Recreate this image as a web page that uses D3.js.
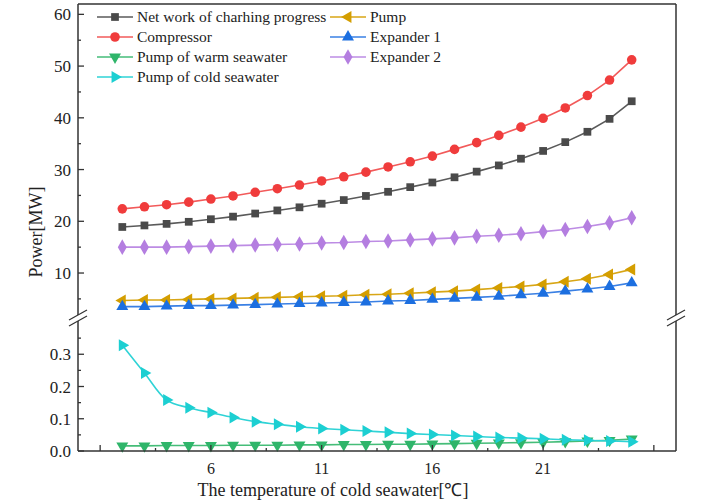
<!DOCTYPE html>
<html>
<head>
<meta charset="utf-8">
<script src="https://cdn.jsdelivr.net/npm/d3@7"></script>
<style>
  body { margin: 0; background: #fff; }
  svg text { font-family: "Liberation Serif", "Times New Roman", serif; fill: #222; }
</style>
</head>
<body>
<div id="chart"></div>
<script>
/* DATA */
const temps = d3.range(2, 26); // 2..25 °C

const netWork = [18.9, 19.2, 19.5, 19.9, 20.4, 20.9, 21.5, 22.1, 22.7, 23.4, 24.1, 24.9,
  25.7, 26.6, 27.5, 28.5, 29.6, 30.8, 32.1, 33.6, 35.3, 37.3, 39.8, 43.2];
const compressor = [22.4, 22.8, 23.2, 23.7, 24.3, 24.9, 25.6, 26.3, 27.0, 27.8, 28.6, 29.5,
  30.5, 31.5, 32.6, 33.9, 35.2, 36.6, 38.2, 39.9, 41.9, 44.3, 47.3, 51.2];
const expander2 = [15.0, 15.0, 15.0, 15.1, 15.2, 15.3, 15.4, 15.5, 15.6, 15.8, 15.9, 16.1,
  16.2, 16.4, 16.6, 16.8, 17.1, 17.3, 17.6, 18.0, 18.4, 19.0, 19.7, 20.7];
const pump = [4.7, 4.8, 4.8, 4.9, 5.0, 5.1, 5.2, 5.3, 5.4, 5.5, 5.6, 5.8,
  5.9, 6.1, 6.3, 6.5, 6.8, 7.1, 7.4, 7.8, 8.3, 8.9, 9.7, 10.7];
const expander1 = [3.5, 3.5, 3.6, 3.7, 3.7, 3.8, 3.9, 4.0, 4.1, 4.2, 4.3, 4.4,
  4.6, 4.7, 4.9, 5.1, 5.3, 5.5, 5.8, 6.1, 6.5, 6.9, 7.4, 8.1];
const pumpWarm = [0.016, 0.016, 0.017, 0.017, 0.017, 0.018, 0.018, 0.018, 0.019, 0.019, 0.020, 0.020,
  0.021, 0.021, 0.022, 0.023, 0.024, 0.025, 0.026, 0.027, 0.029, 0.031, 0.033, 0.037];
const pumpCold = [0.328, 0.242, 0.158, 0.134, 0.119, 0.104, 0.091, 0.083, 0.075, 0.070, 0.066, 0.062,
  0.058, 0.054, 0.051, 0.048, 0.045, 0.042, 0.040, 0.038, 0.035, 0.033, 0.031, 0.029];

const xTicks = [1, 6, 11, 16, 21, 26];
const xLabels = [6, 11, 16, 21];
const upperTicks = [10, 20, 30, 40, 50, 60];
const lowerTicks = [0.0, 0.1, 0.2, 0.3];

// series: name, values, panel, colour, marker, legend column/row
const series = [
  { name: "Net work of charhing progress", values: netWork, panel: "up", color: "#4a4a4a", line: "#5a5a5a", marker: "square", col: 0, row: 0 },
  { name: "Compressor", values: compressor, panel: "up", color: "#f03c3c", line: "#f25a5a", marker: "circle", col: 0, row: 1 },
  { name: "Pump of warm seawater", values: pumpWarm, panel: "low", color: "#2fb56a", line: "#45bd78", marker: "down", col: 0, row: 2 },
  { name: "Pump of cold seawater", values: pumpCold, panel: "low", color: "#1ccfd2", line: "#2fd3d6", marker: "right", col: 0, row: 3, curve: true },
  { name: "Pump", values: pump, panel: "up", color: "#d49e00", line: "#d8a616", marker: "left", col: 1, row: 0 },
  { name: "Expander 1", values: expander1, panel: "up", color: "#1c6fe0", line: "#3a80e4", marker: "up", col: 1, row: 1 },
  { name: "Expander 2", values: expander2, panel: "up", color: "#b47ee0", line: "#bd8ce4", marker: "diamond", col: 1, row: 2 }
];

/* LAYOUT */
const W = 703, H = 501;
const m = { left: 78, right: 676, top: 4, bottom: 451 };
const breakY = 318;

const svg = d3.select("#chart").append("svg")
  .attr("width", W).attr("height", H);

const x = d3.scaleLinear().domain([0, 27]).range([m.left, m.right]);
const yUp = d3.scaleLinear().domain([1.5, 62]).range([317, m.top]);
const yLow = d3.scaleLinear().domain([0, 0.4]).range([m.bottom, 322]);

const symbolFor = {
  square: d3.symbolSquare, circle: d3.symbolCircle, diamond: d3.symbolDiamond,
  up: d3.symbolTriangle, down: d3.symbolTriangle, left: d3.symbolTriangle, right: d3.symbolTriangle
};
const rotFor = { up: 0, down: 180, left: -90, right: 90, square: 0, circle: 0, diamond: 0 };
const sizeFor = { square: 60, circle: 72, diamond: 70, up: 62, down: 62, left: 62, right: 62 };

/* LINES */
series.forEach(s => {
  const y = s.panel === "up" ? yUp : yLow;
  const pts = temps.map((t, i) => [t, s.values[i]]);
  const line = d3.line().x(d => x(d[0])).y(d => y(d[1]))
    .curve(s.curve ? d3.curveCatmullRom : d3.curveLinear);
  svg.append("path")
    .attr("d", line(pts))
    .attr("fill", "none")
    .attr("stroke", s.line)
    .attr("stroke-width", 1.6);
  svg.append("g").selectAll("path")
    .data(pts)
    .join("path")
    .attr("d", d3.symbol(symbolFor[s.marker], sizeFor[s.marker]))
    .attr("transform", d => `translate(${x(d[0])},${y(d[1])}) rotate(${rotFor[s.marker]})`)
    .attr("fill", s.color);
});

/* FRAME AND AXES */
const frame = svg.append("g").attr("stroke", "#333").attr("stroke-width", 1.5).attr("fill", "none");
// left axis and right frame, both broken
[m.left, m.right].forEach(cx => {
  frame.append("line").attr("x1", cx).attr("x2", cx).attr("y1", m.top).attr("y2", breakY - 3);
  frame.append("line").attr("x1", cx).attr("x2", cx).attr("y1", breakY + 3).attr("y2", m.bottom);
});
// top, bottom
frame.append("line").attr("x1", m.left).attr("x2", m.right).attr("y1", m.top).attr("y2", m.top);
frame.append("line").attr("x1", m.left).attr("x2", m.right).attr("y1", m.bottom).attr("y2", m.bottom);

// break marks
[m.left, m.right].forEach(cx => {
  [-3, 3].forEach(dy => {
    frame.append("line")
      .attr("x1", cx - 9).attr("y1", breakY + dy + 5)
      .attr("x2", cx + 9).attr("y2", breakY + dy - 5)
      .attr("stroke-width", 1.2);
  });
});

const tickG = svg.append("g").attr("stroke", "#333").attr("stroke-width", 1.3);

// x ticks (inward)
xTicks.forEach(t => {
  tickG.append("line").attr("x1", x(t)).attr("x2", x(t)).attr("y1", m.bottom).attr("y2", m.bottom - 6);
});
xTicks.slice(0, -1).forEach(t => {
  tickG.append("line").attr("x1", x(t + 2.5)).attr("x2", x(t + 2.5)).attr("y1", m.bottom).attr("y2", m.bottom - 3);
});
svg.append("g").selectAll("text")
  .data(xLabels)
  .join("text")
  .attr("x", d => x(d))
  .attr("y", m.bottom + 23)
  .attr("text-anchor", "middle")
  .attr("font-size", 16)
  .text(d => d);

// upper y ticks
upperTicks.forEach(t => {
  tickG.append("line").attr("x1", m.left).attr("x2", m.left + 6).attr("y1", yUp(t)).attr("y2", yUp(t));
});
[5, 15, 25, 35, 45, 55].forEach(t => {
  tickG.append("line").attr("x1", m.left).attr("x2", m.left + 3).attr("y1", yUp(t)).attr("y2", yUp(t));
});
svg.append("g").selectAll("text")
  .data(upperTicks)
  .join("text")
  .attr("x", m.left - 7)
  .attr("y", d => yUp(d) + 6)
  .attr("text-anchor", "end")
  .attr("font-size", 17)
  .text(d => d);

// lower y ticks
lowerTicks.forEach(t => {
  tickG.append("line").attr("x1", m.left).attr("x2", m.left + 6).attr("y1", yLow(t)).attr("y2", yLow(t));
});
[0.05, 0.15, 0.25, 0.35].forEach(t => {
  tickG.append("line").attr("x1", m.left).attr("x2", m.left + 3).attr("y1", yLow(t)).attr("y2", yLow(t));
});
svg.append("g").selectAll("text")
  .data(lowerTicks)
  .join("text")
  .attr("x", m.left - 7)
  .attr("y", d => yLow(d) + 6)
  .attr("text-anchor", "end")
  .attr("font-size", 17)
  .text(d => d3.format(".1f")(d));

// axis titles
svg.append("text")
  .attr("x", 333).attr("y", 496)
  .attr("text-anchor", "middle")
  .attr("font-size", 18)
  .text("The temperature of cold seawater[℃]");
svg.append("text")
  .attr("transform", "translate(42,232) rotate(-90)")
  .attr("text-anchor", "middle")
  .attr("font-size", 18)
  .text("Power[MW]");

/* LEGEND */
const legend = svg.append("g");
const colX = [97, 330], rowY = [17, 37, 57, 77];
series.forEach(s => {
  const lx = colX[s.col], ly = rowY[s.row];
  legend.append("line")
    .attr("x1", lx).attr("x2", lx + 36).attr("y1", ly).attr("y2", ly)
    .attr("stroke", s.line).attr("stroke-width", 1.6);
  legend.append("path")
    .attr("d", d3.symbol(symbolFor[s.marker], sizeFor[s.marker]))
    .attr("transform", `translate(${lx + 18},${ly}) rotate(${rotFor[s.marker]})`)
    .attr("fill", s.color);
  legend.append("text")
    .attr("x", lx + 40).attr("y", ly + 5)
    .attr("font-size", 15.5)
    .text(s.name);
});
</script>
</body>
</html>
